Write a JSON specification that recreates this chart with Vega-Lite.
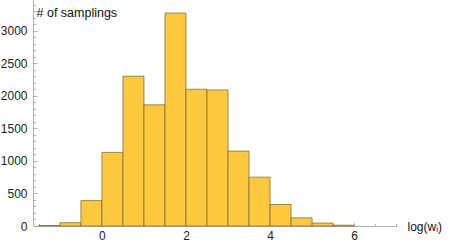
{
  "$schema": "https://vega.github.io/schema/vega-lite/v6.json",
  "width": 364,
  "height": 226,
  "autosize": {"type": "none"},
  "padding": {"left": 33, "top": 0, "right": 52, "bottom": 20},
  "background": "white",
  "config": {
    "view": {"stroke": null},
    "axis": {
      "labelFont": "Liberation Sans",
      "titleFont": "Liberation Sans",
      "labelFontSize": 12,
      "titleFontSize": 12,
      "labelColor": "#222222",
      "titleColor": "#111111",
      "titleFontWeight": "normal",
      "domainColor": "#b0b0b0",
      "tickColor": "#b0b0b0",
      "grid": false
    }
  },
  "data": {
    "values": [
      {"start": -1.5, "end": -1.0, "count": 8},
      {"start": -1.0, "end": -0.5, "count": 50},
      {"start": -0.5, "end": 0.0, "count": 390},
      {"start": 0.0, "end": 0.5, "count": 1130},
      {"start": 0.5, "end": 1.0, "count": 2300},
      {"start": 1.0, "end": 1.5, "count": 1860},
      {"start": 1.5, "end": 2.0, "count": 3270},
      {"start": 2.0, "end": 2.5, "count": 2100},
      {"start": 2.5, "end": 3.0, "count": 2090},
      {"start": 3.0, "end": 3.5, "count": 1150},
      {"start": 3.5, "end": 4.0, "count": 750},
      {"start": 4.0, "end": 4.5, "count": 330},
      {"start": 4.5, "end": 5.0, "count": 125},
      {"start": 5.0, "end": 5.5, "count": 45},
      {"start": 5.5, "end": 6.0, "count": 12}
    ]
  },
  "mark": {"type": "rect", "fill": "#fec83f", "stroke": "#7a6a3c", "strokeOpacity": 0.75, "strokeWidth": 1},
  "encoding": {
    "x": {
      "field": "start", "type": "quantitative",
      "scale": {"domain": [-1.64, 7.02], "nice": false, "zero": false},
      "axis": {
        "values": [-1.5, -1, -0.5, 0, 0.5, 1, 1.5, 2, 2.5, 3, 3.5, 4, 4.5, 5, 5.5, 6, 6.5, 7],
        "labelExpr": "datum.value % 2 === 0 ? '' + datum.value : ''",
        "tickSize": {"condition": {"test": "datum.value % 2 === 0", "value": -4}, "value": -2.5},
        "labelPadding": 8,
        "labelFlush": false,
        "labelOverlap": false,
        "title": "log(wᵢ)",
        "titleAngle": 0,
        "titleAlign": "left",
        "titleBaseline": "middle",
        "titleX": 374,
        "titleY": 0
      }
    },
    "x2": {"field": "end"},
    "y": {
      "field": "count", "type": "quantitative",
      "scale": {"domain": [0, 3470], "nice": false},
      "axis": {
        "values": [0,100,200,300,400,500,600,700,800,900,1000,1100,1200,1300,1400,1500,1600,1700,1800,1900,2000,2100,2200,2300,2400,2500,2600,2700,2800,2900,3000,3100,3200,3300,3400],
        "labelExpr": "datum.value % 500 === 0 ? '' + datum.value : ''",
        "tickSize": {"condition": {"test": "datum.value % 500 === 0", "value": -4}, "value": -2.5},
        "labelPadding": 10,
        "labelFlush": false,
        "labelOverlap": false,
        "title": "# of samplings",
        "titleFontSize": 12.5,
        "titleAngle": 0,
        "titleAlign": "left",
        "titleBaseline": "middle",
        "titleX": 3,
        "titleY": 12
      }
    },
    "y2": {"datum": 0}
  }
}
